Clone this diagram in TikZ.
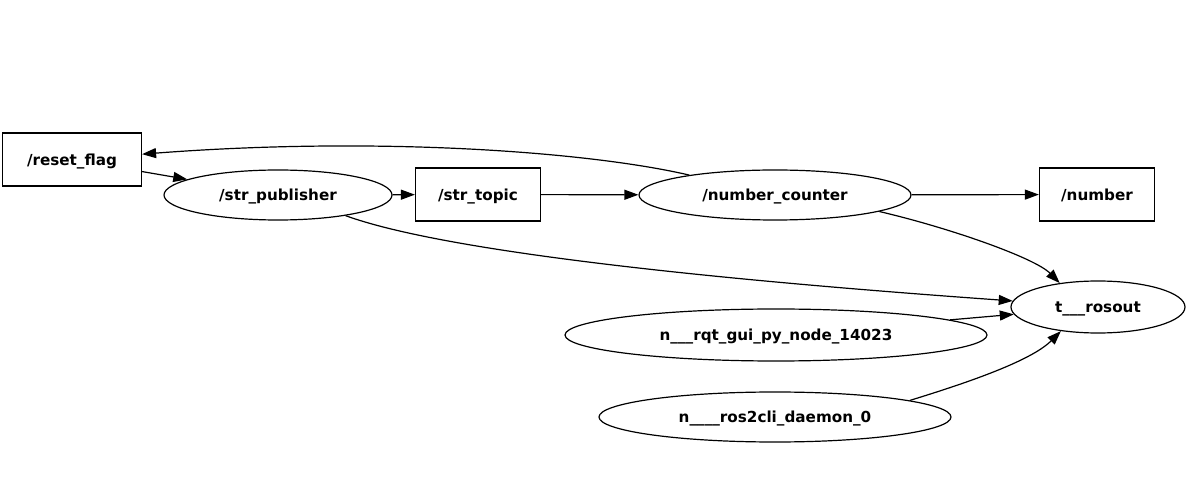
\documentclass[tikz,border=0pt]{standalone}
\usepackage{fontspec}
\setmainfont{DejaVu Sans}
\usetikzlibrary{arrows.meta, shapes.geometric, positioning}

\begin{document}
\begin{tikzpicture}[x=1pt, y=-1pt, line width=1.2pt,
    font=\bfseries\fontsize{15.2}{17}\selectfont,
    every node/.style={text height=13pt, text depth=1pt},
    topicbox/.style={draw, rectangle, inner sep=0pt, minimum height=53pt},
    rosnode/.style={draw, ellipse, inner sep=0pt, minimum height=50pt},
    link/.style={-{Triangle[length=14pt, width=10pt]}}]
  \useasboundingbox (0,0) rectangle (1187,494);
  % topics (boxes)
  \node[topicbox, minimum width=139pt] (rf) at (72,159.5) {/reset\_flag};
  \node[topicbox, minimum width=125pt] (st) at (478,194.5) {/str\_topic};
  \node[topicbox, minimum width=115pt] (nb) at (1097,194.5) {/number};
  % ros nodes (ellipses)
  \node[rosnode, minimum width=228pt] (sp) at (278,195) {/str\_publisher};
  \node[rosnode, minimum width=272pt] (nc) at (775,195) {/number\_counter};
  \node[rosnode, minimum width=174pt, minimum height=52pt] (ro) at (1098,307) {t\_\_\_rosout};
  \node[rosnode, minimum width=422pt, minimum height=52pt] (rq) at (776,335) {n\_\_\_rqt\_gui\_py\_node\_14023};
  \node[rosnode, minimum width=352pt] (dm) at (775,417) {n\_\_\_\_ros2cli\_daemon\_0};
  % connections
  \draw[link] (nc) .. controls (590,152) and (380,136) .. (rf);
  \draw[link] (rf) -- (sp);
  \draw[link] (sp) -- (st);
  \draw[link] (st) -- (nc);
  \draw[link] (nc) -- (nb);
  \draw[link] (nc.-9) .. controls (950,228) and (1035,258) .. (ro.148);
  \draw[link] (sp.-17) .. controls (440,250) and (690,278) .. (ro);
  \draw[link] (rq) -- (ro);
  \draw[link] (dm.7) .. controls (960,385) and (1030,362) .. (ro.213);
\end{tikzpicture}
\end{document}
